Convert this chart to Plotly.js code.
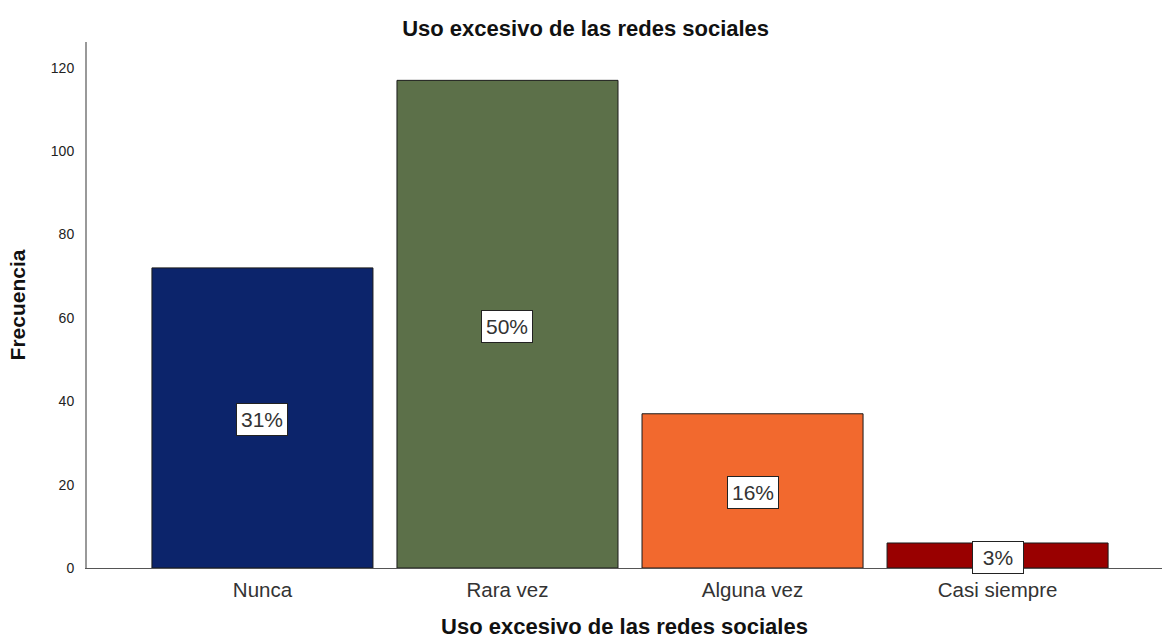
<!DOCTYPE html>
<html>
<head>
<meta charset="utf-8">
<script src="https://cdn.plot.ly/plotly-3.0.1.min.js"></script>
<style>html,body{margin:0;padding:0;background:#fff}#chart{width:1162px;height:639px}</style>
</head>
<body>
<div id="chart"></div>
<script>
const categories = ["Nunca", "Rara vez", "Alguna vez", "Casi siempre"];
const frequencies = [72, 117, 37, 6];
const percentLabels = ["31%", "50%", "16%", "3%"];
const barColors = ["#0C246B", "#5C7049", "#F2692E", "#990000"];
const yTickVals = [0, 20, 40, 60, 80, 100, 120];
const chartTitle = "Uso excesivo de las redes sociales";
const xTitle = "Uso excesivo de las redes sociales";
const yTitle = "Frecuencia";

const FONT = "Liberation Sans, Arial, sans-serif";

const trace = {
  type: "bar",
  x: categories,
  y: frequencies,
  marker: { color: barColors, line: { color: "#1a1a1a", width: 1 } },
  hoverinfo: "skip"
};

const annotations = categories.map((c, i) => ({
  x: c, y: frequencies[i] / 2, xref: "x", yref: "y",
  text: percentLabels[i], showarrow: false,
  font: { family: FONT, size: 21, color: "#333333" },
  bgcolor: "#ffffff", bordercolor: "#222222", borderwidth: 1, borderpad: 2,
  width: 46, height: 27,
  yshift: -2
}));

const layout = {
  width: 1162, height: 639,
  margin: { l: 87, r: 0, t: 42, b: 71 },
  paper_bgcolor: "#ffffff", plot_bgcolor: "#ffffff",
  showlegend: false,
  bargap: 0.098,
  font: { family: FONT, color: "#222" },
  title: { text: chartTitle, x: 0.504, xref: "container", xanchor: "center", y: 0.955, yanchor: "middle",
           font: { family: FONT, size: 22, color: "#111", weight: "bold" } },
  xaxis: {
    range: [-0.716, 3.671], showline: true, linecolor: "#555", linewidth: 1,
    showgrid: false, zeroline: false, ticks: "", fixedrange: true,
    tickfont: { family: FONT, size: 20.5, color: "#333" }, ticklabelstandoff: 3,
    title: { text: xTitle, standoff: 22, font: { family: FONT, size: 22, color: "#111", weight: "bold" } }
  },
  yaxis: {
    range: [0, 126.2], showline: true, linecolor: "#999", linewidth: 2,
    showgrid: false, zeroline: false, ticks: "", tickvals: yTickVals,
    tickfont: { family: FONT, size: 14, color: "#222" }, ticklabelstandoff: 8,
    title: { text: yTitle, standoff: 19, font: { family: FONT, size: 21, color: "#111", weight: "bold" } }
  },
  annotations: annotations
};

Plotly.newPlot("chart", [trace], layout, { displayModeBar: false, staticPlot: true });
</script>
</body>
</html>
